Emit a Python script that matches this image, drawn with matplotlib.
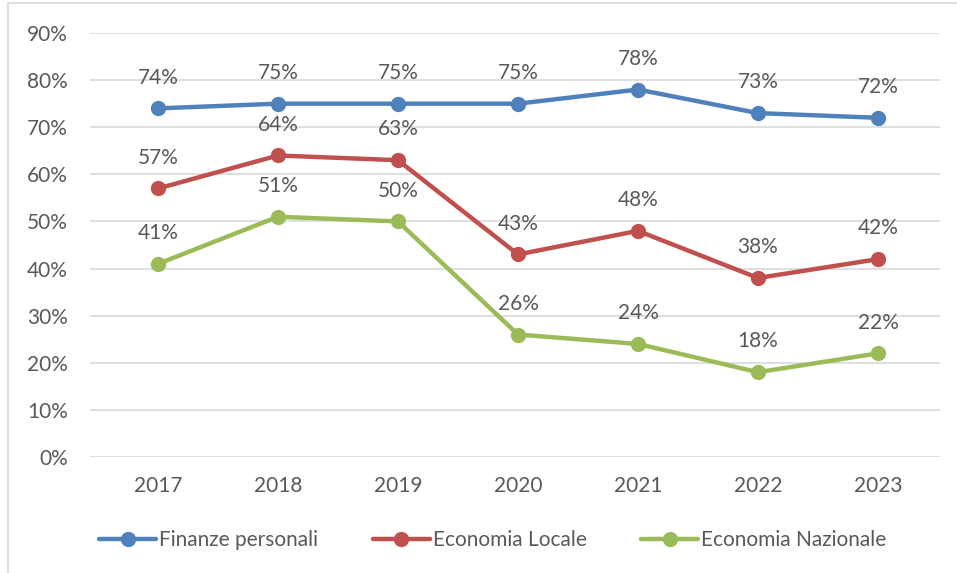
import matplotlib
matplotlib.use("Agg")
import matplotlib.pyplot as plt
from matplotlib.patches import Rectangle

years = ["2017", "2018", "2019", "2020", "2021", "2022", "2023"]
finanze = [74, 75, 75, 75, 78, 73, 72]
locale = [57, 64, 63, 43, 48, 38, 42]
nazionale = [41, 51, 50, 26, 24, 18, 22]
series_names = ["Finanze personali", "Economia Locale", "Economia Nazionale"]
colors = ["#4F81BD", "#C0504D", "#9BBB59"]
yticks = [0, 10, 20, 30, 40, 50, 60, 70, 80, 90]

plt.rcParams['font.family'] = ['Lato', 'DejaVu Sans']
txt = "#595959"
fs = 15

fig = plt.figure(figsize=(9.57, 5.73), dpi=100)
fig.patches.append(Rectangle((8/957, -0.1), 1.2, 1 - 3/573 + 0.1, transform=fig.transFigure,
                             fill=False, edgecolor="#D9D9D9", linewidth=1.2))
ax = fig.add_axes([90/957, 1 - 457/573, 850/957, 424/573])
x = list(range(len(years)))
for vals, name, c in zip([finanze, locale, nazionale], series_names, colors):
    ax.plot(x, vals, color=c, linewidth=3.2, marker="o", markersize=10, label=name,
            solid_capstyle="round", solid_joinstyle="round", zorder=3)
    for xi, v in zip(x, vals):
        ax.annotate(f"{v}%", (xi, v), xytext=(0, 15), textcoords="offset points",
                    ha="center", va="bottom", fontsize=fs, color=txt, zorder=4)

ax.set_xlim(-68/120, len(years) - 1 + 62/120)
ax.set_ylim(0, 90)
ax.set_yticks(yticks)
ax.set_yticklabels([f"{t}%" for t in yticks])
ax.set_xticks(x)
ax.set_xticklabels(years)
ax.grid(axis="y", color="#D9D9D9", linewidth=1.2, zorder=0)
ax.set_axisbelow(True)
for s in ax.spines.values():
    s.set_visible(False)
ax.tick_params(length=0, labelsize=fs, labelcolor=txt)
ax.tick_params(axis="y", pad=16)
ax.tick_params(axis="x", pad=14)

leg = fig.legend(loc="center", bbox_to_anchor=(0.515, 1 - 540/573), ncol=3, frameon=False,
                 fontsize=fs, handlelength=2.75, columnspacing=2.6, handletextpad=0.15,
                 labelcolor=txt)
fig.savefig("out.png", dpi=100)
